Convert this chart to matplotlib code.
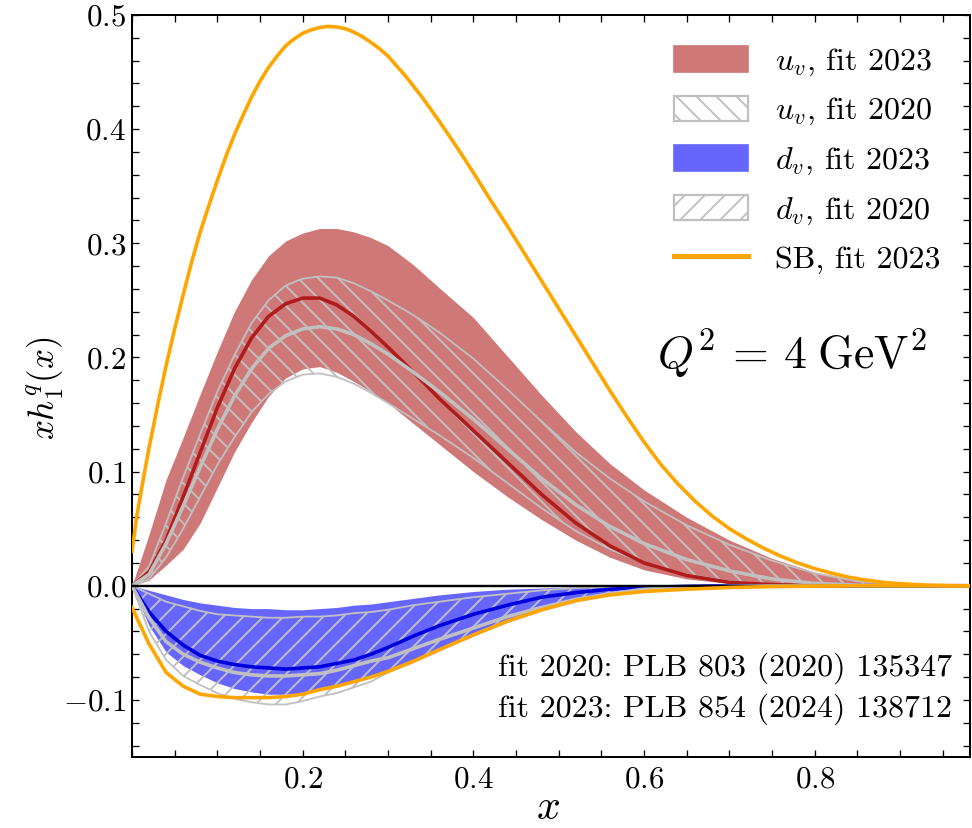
import numpy as np
import matplotlib
matplotlib.use("Agg")
import matplotlib.pyplot as plt
from matplotlib.patches import Patch
from matplotlib.lines import Line2D
from matplotlib.ticker import MultipleLocator, FuncFormatter

DPI = 120
def P(px):
    return px * 72.0 / DPI

plt.rcParams['font.family'] = 'serif'
plt.rcParams['font.serif'] = ['cmr10']
plt.rcParams['mathtext.fontset'] = 'cm'
plt.rcParams['axes.formatter.use_mathtext'] = True
plt.rcParams['hatch.linewidth'] = P(1.9)

# SB bound, upper (orange), read on its own finer grid
sb_x = [0, 0.005, 0.01, 0.02, 0.03, 0.04, 0.05, 0.06, 0.07, 0.08, 0.09, 0.10, 0.11, 0.12,
        0.13, 0.14, 0.15, 0.16, 0.17, 0.18, 0.19, 0.20, 0.21, 0.22, 0.23, 0.24, 0.25, 0.26,
        0.27, 0.28, 0.29, 0.30, 0.32, 0.34, 0.36, 0.38, 0.40, 0.42, 0.44, 0.46, 0.48, 0.50,
        0.52, 0.54, 0.56, 0.58, 0.60, 0.62, 0.64, 0.66, 0.68, 0.70, 0.72, 0.74, 0.76, 0.78,
        0.80, 0.82, 0.84, 0.86, 0.88, 0.90, 0.93, 0.96, 0.98]
sb_up = [0.03, 0.058, 0.080, 0.121, 0.158, 0.193, 0.225, 0.255, 0.284, 0.310, 0.333, 0.355,
         0.376, 0.395, 0.412, 0.428, 0.442, 0.454, 0.464, 0.473, 0.479, 0.484, 0.487, 0.489,
         0.490, 0.4895, 0.488, 0.485, 0.481, 0.476, 0.4705, 0.464, 0.447, 0.428, 0.407, 0.385,
         0.362, 0.338, 0.315, 0.291, 0.267, 0.243, 0.219, 0.195, 0.171, 0.148, 0.126, 0.106,
         0.089, 0.074, 0.061, 0.050, 0.041, 0.033, 0.026, 0.020, 0.015, 0.011, 0.0075, 0.005,
         0.003, 0.0018, 0.0006, 0.0001, 0.0]

# common x grid for the bands
x = [0, 0.02, 0.04, 0.06, 0.08, 0.10, 0.12, 0.14, 0.16, 0.18, 0.20, 0.22, 0.24, 0.26,
     0.28, 0.30, 0.33, 0.36, 0.40, 0.44, 0.48, 0.52, 0.56, 0.60, 0.65, 0.70, 0.75,
     0.80, 0.85, 0.90, 0.95, 0.98]

# SB bound, lower (orange)
sb_lo = [-0.019, -0.051, -0.076, -0.088, -0.095, -0.097, -0.098, -0.098, -0.098, -0.097,
         -0.095, -0.091, -0.088, -0.084, -0.080, -0.075, -0.066, -0.056, -0.043, -0.031,
         -0.021, -0.013, -0.008, -0.005, -0.003, -0.0015, -0.0007, -0.0003, 0.0, 0.0, 0.0, 0.0]

# u_v fit 2023
u23_hi = [0, 0.045, 0.093, 0.130, 0.168, 0.205, 0.240, 0.268, 0.289, 0.302, 0.309, 0.313,
          0.313, 0.310, 0.305, 0.298, 0.281, 0.261, 0.235, 0.201, 0.167, 0.135, 0.107, 0.084,
          0.060, 0.040, 0.024, 0.012, 0.005, 0.001, 0, 0]
u23 = [0, 0.012, 0.040, 0.078, 0.117, 0.156, 0.190, 0.217, 0.236, 0.247, 0.252, 0.252,
       0.246, 0.236, 0.223, 0.209, 0.187, 0.164, 0.136, 0.108, 0.080, 0.055, 0.035, 0.020,
       0.009, 0.003, 0.001, 0, 0, 0, 0, 0]
u23_lo = [0, 0.005, 0.018, 0.032, 0.055, 0.086, 0.117, 0.143, 0.166, 0.182, 0.190, 0.192,
          0.187, 0.179, 0.170, 0.160, 0.142, 0.124, 0.100, 0.078, 0.058, 0.040, 0.025, 0.014,
          0.006, 0.002, 0.0005, 0, 0, 0, 0, 0]

# u_v fit 2020
u20_hi = [0, 0.017, 0.055, 0.095, 0.133, 0.170, 0.202, 0.230, 0.250, 0.263, 0.269, 0.271,
          0.270, 0.265, 0.258, 0.250, 0.237, 0.222, 0.199, 0.172, 0.144, 0.117, 0.094, 0.074,
          0.053, 0.036, 0.022, 0.011, 0.004, 0.001, 0, 0]
u20 = [0, 0.010, 0.037, 0.070, 0.104, 0.137, 0.166, 0.190, 0.208, 0.219, 0.225, 0.227,
       0.225, 0.220, 0.212, 0.203, 0.187, 0.170, 0.146, 0.120, 0.094, 0.071, 0.052, 0.037,
       0.023, 0.013, 0.006, 0.002, 0.0005, 0, 0, 0]
u20_lo = [0, 0.006, 0.025, 0.050, 0.078, 0.106, 0.130, 0.152, 0.168, 0.179, 0.185, 0.186,
          0.183, 0.177, 0.169, 0.160, 0.146, 0.132, 0.112, 0.090, 0.068, 0.048, 0.032, 0.020,
          0.010, 0.004, 0.0015, 0.0005, 0.0001, 0, 0, 0]

# d_v fit 2023
d23_hi = [0, -0.004, -0.008, -0.012, -0.015, -0.017, -0.019, -0.020, -0.020, -0.021, -0.021,
          -0.020, -0.019, -0.017, -0.016, -0.014, -0.011, -0.008, -0.005, -0.003, -0.002,
          -0.001, -0.0005, 0, 0, 0, 0, 0, 0, 0, 0, 0]
d23 = [0, -0.023, -0.040, -0.052, -0.061, -0.066, -0.069, -0.071, -0.072, -0.073, -0.072,
       -0.071, -0.068, -0.065, -0.060, -0.054, -0.044, -0.035, -0.025, -0.017, -0.010, -0.006,
       -0.003, -0.0015, -0.0005, 0, 0, 0, 0, 0, 0, 0]
d23_lo = [0, -0.035, -0.058, -0.070, -0.078, -0.085, -0.090, -0.093, -0.095, -0.095, -0.094,
          -0.091, -0.087, -0.083, -0.079, -0.074, -0.065, -0.055, -0.042, -0.030, -0.020,
          -0.012, -0.007, -0.004, -0.002, -0.001, 0, 0, 0, 0, 0, 0]

# d_v fit 2020
d20_hi = [0, -0.007, -0.014, -0.018, -0.022, -0.025, -0.026, -0.027, -0.028, -0.028, -0.027,
          -0.027, -0.026, -0.024, -0.023, -0.021, -0.017, -0.014, -0.010, -0.007, -0.004,
          -0.002, -0.001, -0.0005, 0, 0, 0, 0, 0, 0, 0, 0]
d20 = [0, -0.028, -0.049, -0.060, -0.067, -0.072, -0.076, -0.078, -0.079, -0.079, -0.078,
       -0.077, -0.074, -0.070, -0.066, -0.063, -0.055, -0.047, -0.037, -0.027, -0.019, -0.012,
       -0.007, -0.003, -0.0015, -0.0005, 0, 0, 0, 0, 0, 0]
d20_lo = [0, -0.040, -0.065, -0.079, -0.087, -0.094, -0.099, -0.102, -0.104, -0.104, -0.101,
          -0.097, -0.094, -0.089, -0.084, -0.076, -0.067, -0.057, -0.044, -0.032, -0.022,
          -0.014, -0.008, -0.005, -0.002, -0.001, 0, 0, 0, 0, 0, 0]

legend_labels = [r'$u_v$, fit 2023', r'$u_v$, fit 2020', r'$d_v$, fit 2023',
                 r'$d_v$, fit 2020', r'SB, fit 2023']
refs = ['fit 2020: PLB 803 (2020) 135347', 'fit 2023: PLB 854 (2024) 138712']
x_ticks = [0.2, 0.4, 0.6, 0.8]

RED = '#cf7878'
DRED = '#b01c1c'
BLUE = '#6666ff'
DBLUE = '#0000dd'
GRAY = '#c0c0c0'
ORANGE = '#ffa500'

W, H = 973, 828
fig = plt.figure(figsize=(W / DPI, H / DPI), dpi=DPI)
ax = fig.add_axes([132 / W, 1 - 757 / H, (970 - 132) / W, (757 - 15) / H])

LW_C = P(3.6)
LW_E = P(1.8)

# u_v bands
ax.fill_between(x, u23_lo, u23_hi, color=RED, lw=0, zorder=1)
ax.fill_between(x, u20_lo, u20_hi, facecolor='none', edgecolor=GRAY, hatch='\\\\', lw=0, zorder=2)
ax.plot(x, u20_hi, color=GRAY, lw=LW_E, zorder=2)
ax.plot(x, u20_lo, color=GRAY, lw=LW_E, zorder=2)
ax.plot(x, u23, color=DRED, lw=LW_C, zorder=3)
ax.plot(x, u20, color=GRAY, lw=LW_C, zorder=3)

# d_v bands
ax.fill_between(x, d23_lo, d23_hi, color=BLUE, lw=0, zorder=1)
ax.fill_between(x, d20_lo, d20_hi, facecolor='none', edgecolor=GRAY, hatch='//', lw=0, zorder=2)
ax.plot(x, d20_hi, color=GRAY, lw=LW_E, zorder=2)
ax.plot(x, d20_lo, color=GRAY, lw=LW_E, zorder=2)
ax.plot(x, d23, color=DBLUE, lw=LW_C, zorder=3)
ax.plot(x, d20, color=GRAY, lw=LW_C, zorder=3)

ax.axhline(0, color='black', lw=P(2.4), zorder=4)

ax.plot(sb_x, sb_up, color=ORANGE, lw=LW_C, zorder=5)
ax.plot(x, sb_lo, color=ORANGE, lw=LW_C, zorder=5)

def fmt(v, pos):
    if abs(v) < 1e-9:
        v = 0.0
    return r'$%.1f$' % v

ax.set_xlim(0, 0.982)
ax.set_ylim(-0.15, 0.5)
ax.set_xticks(x_ticks)
ax.xaxis.set_minor_locator(MultipleLocator(0.05))
ax.yaxis.set_major_locator(MultipleLocator(0.1))
ax.yaxis.set_minor_locator(MultipleLocator(0.02))
ax.xaxis.set_major_formatter(FuncFormatter(fmt))
ax.yaxis.set_major_formatter(FuncFormatter(fmt))
ax.tick_params(which='both', direction='in', top=True, right=True, length=P(7), width=P(1.3),
               labelsize=P(31))
ax.tick_params(axis='x', pad=P(9))
ax.tick_params(axis='y', pad=P(6))
for s in ax.spines.values():
    s.set_linewidth(P(2))

fig.text(548 / W, 1 - 808 / H, r'$x$', fontsize=P(42), ha='center', va='center')
fig.text(45 / W, 1 - 388 / H, r'$xh_1^q(x)$', fontsize=P(35), ha='center', va='center',
         rotation=90)

handles = [Patch(facecolor=RED, edgecolor=RED),
           Patch(facecolor='white', edgecolor=GRAY, hatch='\\\\', lw=P(2.2)),
           Patch(facecolor=BLUE, edgecolor=BLUE),
           Patch(facecolor='white', edgecolor=GRAY, hatch='//', lw=P(2.2)),
           Line2D([], [], color=ORANGE, lw=P(5))]
leg = fig.legend(handles, legend_labels, loc='upper left',
                 bbox_to_anchor=(674 / W, 1 - 46 / H), bbox_transform=fig.transFigure,
                 frameon=False, fontsize=P(32), handlelength=2.3, handleheight=0.85,
                 handletextpad=0.85, labelspacing=0.55, borderpad=0, borderaxespad=0)

ax.text((927 - 132) / 838, (757 - 353) / 742, r'$Q^2\,=\,4\;\mathrm{GeV}^2$',
        transform=ax.transAxes, fontsize=P(46), ha='right', va='center')
ax.text((952 - 132) / 838, (757 - 668) / 742, refs[0], transform=ax.transAxes,
        fontsize=P(32), ha='right', va='center')
ax.text((952 - 132) / 838, (757 - 709) / 742, refs[1], transform=ax.transAxes,
        fontsize=P(32), ha='right', va='center')

fig.savefig('out.png', dpi=DPI)
